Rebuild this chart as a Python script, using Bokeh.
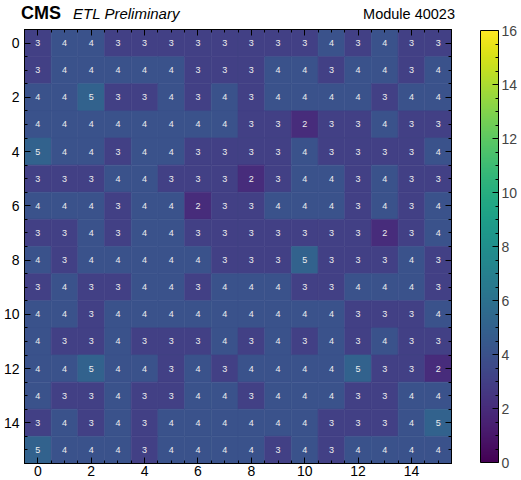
import numpy as np
from bokeh.plotting import figure
from bokeh.layouts import column
from bokeh.models import (ColumnDataSource, LinearColorMapper, ColorBar, FixedTicker,
                          Range1d, LinearAxis, Div)
from bokeh.palettes import Viridis256
from bokeh.transform import transform
from bokeh.core.properties import value
from bokeh.embed import file_html
from bokeh.resources import INLINE

title_cms = "CMS"
title_sub = "ETL Preliminary"
title_module = "Module 40023"

# counts[row][col]; row = y (0 at top), col = x
counts = [
    [3, 4, 4, 3, 3, 3, 3, 3, 3, 3, 3, 4, 3, 4, 3, 3],
    [3, 4, 4, 4, 4, 4, 3, 3, 3, 4, 4, 3, 4, 4, 3, 4],
    [4, 4, 5, 3, 3, 4, 3, 4, 3, 4, 4, 4, 4, 3, 4, 4],
    [4, 4, 4, 4, 4, 4, 4, 4, 3, 3, 2, 3, 3, 4, 3, 3],
    [5, 4, 4, 3, 4, 4, 3, 3, 3, 3, 4, 3, 3, 3, 3, 4],
    [3, 3, 3, 4, 4, 3, 3, 3, 2, 3, 4, 4, 3, 4, 3, 3],
    [4, 4, 4, 3, 4, 4, 2, 3, 3, 4, 4, 4, 3, 4, 3, 4],
    [3, 3, 4, 3, 4, 4, 3, 3, 3, 3, 3, 3, 3, 2, 3, 4],
    [4, 3, 4, 4, 4, 4, 4, 3, 3, 3, 5, 3, 3, 3, 4, 3],
    [3, 4, 3, 3, 4, 4, 3, 4, 4, 4, 3, 3, 4, 4, 4, 3],
    [4, 4, 3, 4, 4, 4, 4, 4, 4, 4, 4, 4, 3, 3, 3, 4],
    [4, 3, 3, 4, 3, 3, 3, 4, 3, 4, 3, 4, 3, 4, 3, 3],
    [4, 4, 5, 4, 4, 3, 4, 3, 4, 4, 4, 4, 5, 3, 3, 2],
    [4, 3, 3, 4, 3, 3, 4, 4, 3, 4, 4, 4, 3, 3, 4, 4],
    [3, 4, 3, 4, 3, 4, 4, 4, 4, 4, 4, 3, 3, 3, 4, 5],
    [5, 4, 4, 4, 3, 4, 4, 4, 4, 3, 4, 3, 4, 4, 4, 4],
]
axis_ticks = [0, 2, 4, 6, 8, 10, 12, 14]
axis_minor = [k * 0.5 for k in range(-1, 32) if k % 4 != 0]
cb_ticks = [0, 2, 4, 6, 8, 10, 12, 14, 16]
cb_minor = [k * 0.5 for k in range(0, 33) if k % 4 != 0]
z_low, z_high = 0, 16

xs, ys, vs = [], [], []
for r, row in enumerate(counts):
    for c, v in enumerate(row):
        xs.append(c)
        ys.append(r)
        vs.append(v)
src = ColumnDataSource(dict(x=xs, y=ys, v=vs, t=[str(v) for v in vs]))
mapper = LinearColorMapper(palette=Viridis256, low=z_low, high=z_high)

FONT = "Liberation Sans"
W = 520
HEAD = 22

# ---- header strip with the titles ----
header_html = (
    f'<div style="position:relative;width:{W}px;height:{HEAD}px;font-family:\'{FONT}\';color:black;">'
    f'<span style="position:absolute;left:21px;top:4px;font-size:18px;line-height:18px;'
    f'font-weight:bold;white-space:nowrap;">{title_cms}</span>'
    f'<span style="position:absolute;left:73px;top:6px;font-size:15px;line-height:15px;'
    f'font-style:italic;white-space:nowrap;">{title_sub}</span>'
    f'<span style="position:absolute;right:65px;top:7px;font-size:14.5px;line-height:14.5px;'
    f'white-space:nowrap;">{title_module}</span>'
    '</div>'
)
h = Div(text=header_html, width=W, height=HEAD, margin=0)

# ---- main heat map ----
p = figure(width=W, height=479 - HEAD, x_range=Range1d(-0.5, 15.5), y_range=Range1d(15.5, -0.5),
           output_backend="svg", toolbar_location=None,
           min_border_left=21, min_border_right=65, min_border_top=29 - HEAD, min_border_bottom=16)
p.grid.visible = False
p.outline_line_color = "black"
p.outline_line_width = 1
p.background_fill_color = "white"
p.border_fill_color = None

p.rect(x="x", y="y", width=1, height=1, source=src,
       fill_color=transform("v", mapper), line_color=transform("v", mapper), line_width=0.6)
p.text(x="x", y="y", text="t", source=src, text_align="center", text_baseline="middle",
       text_font_size="9px", text_color="#eeeeee", text_font=value(FONT))

def style_axis(ax, labels=True):
    ax.ticker = FixedTicker(ticks=axis_ticks, minor_ticks=axis_minor)
    ax.major_tick_in = 6
    ax.major_tick_out = 0
    ax.minor_tick_in = 3
    ax.minor_tick_out = 0
    ax.axis_line_color = "black"
    ax.major_tick_line_color = "black"
    ax.minor_tick_line_color = "black"
    ax.major_label_text_font = FONT
    ax.major_label_text_font_size = "14px"
    if labels:
        ax.major_label_text_color = "black"
        ax.major_label_standoff = 5
    else:
        ax.major_label_text_color = None
        ax.major_label_standoff = 0

style_axis(p.xaxis[0])
p.xaxis[0].major_label_standoff = 2
style_axis(p.yaxis[0])
rax = LinearAxis()
style_axis(rax, labels=False)
p.add_layout(rax, "right")
tax = LinearAxis()
style_axis(tax, labels=False)
p.add_layout(tax, "above")

cb = ColorBar(color_mapper=mapper, ticker=FixedTicker(ticks=cb_ticks, minor_ticks=cb_minor),
              width=18, height=432, padding=0, margin=0, location=(29, 1),
              major_tick_in=6, major_tick_out=0, minor_tick_in=3, minor_tick_out=0,
              major_tick_line_color="black", minor_tick_line_color="black",
              bar_line_color="black", border_line_color=None, background_fill_color=None,
              label_standoff=3, major_label_text_font=FONT, major_label_text_font_size="14px")
p.add_layout(cb, "right")

open("out.html", "w").write(file_html(column(h, p, spacing=0), INLINE))
